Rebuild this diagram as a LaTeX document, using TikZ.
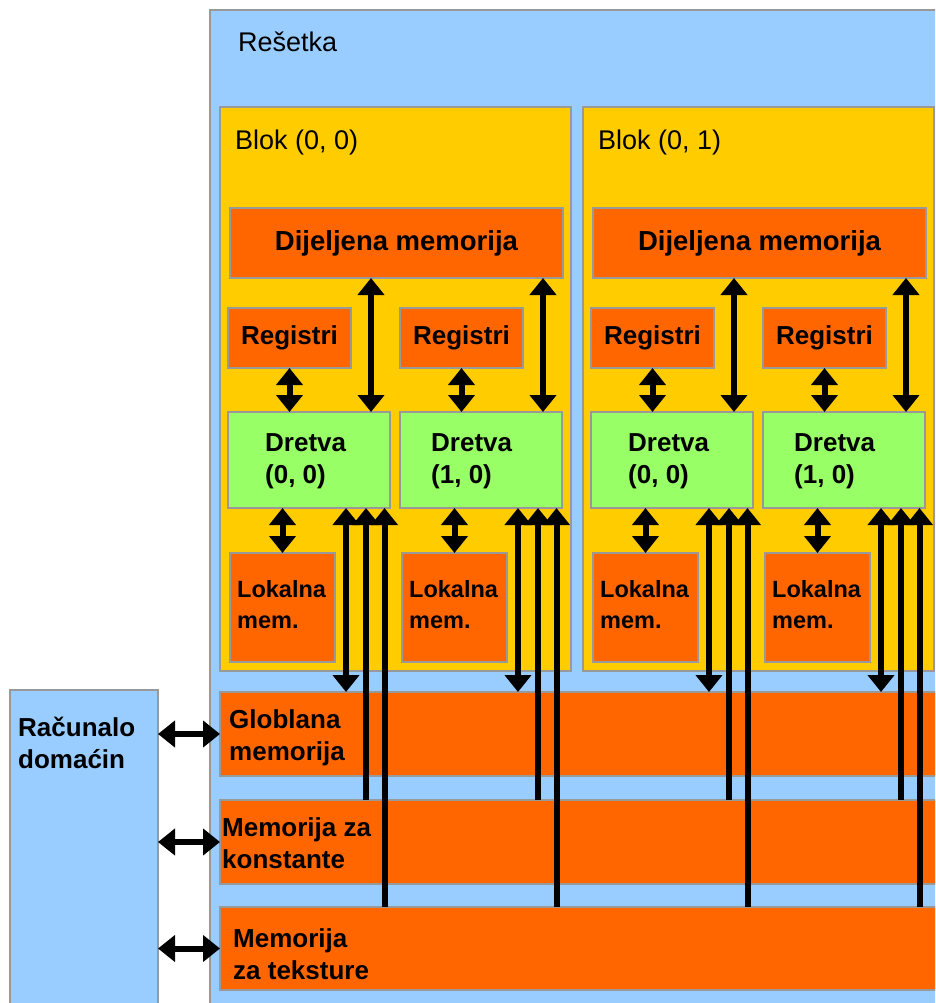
\documentclass[tikz,border=0pt]{standalone}
\usepackage{fontspec}
\setmainfont{Liberation Sans}
\usetikzlibrary{arrows.meta,calc}

\definecolor{gridblue}{HTML}{99CCFF}
\definecolor{blockyellow}{HTML}{FFCC00}
\definecolor{memorange}{HTML}{FF6600}
\definecolor{threadgreen}{HTML}{99FF66}
\definecolor{edgegray}{HTML}{999999}

\tikzset{
  box/.style={draw=edgegray, line width=1.5pt, anchor=north west,
              inner sep=0pt, outer sep=0pt},
  thinlbl/.style={inner sep=0pt, font=\fontsize{27}{32}\selectfont},
  boldlbl/.style={inner sep=0pt, font=\fontsize{26}{32}\selectfont\bfseries},
  widelbl/.style={inner sep=0pt, font=\fontsize{27.5}{32}\selectfont\bfseries},
  smalllbl/.style={inner sep=0pt, font=\fontsize{23.5}{31}\selectfont\bfseries},
  tip/.tip={Triangle[width=26pt,length=17pt]},
  dlink/.style={line width=6pt, tip-tip},
  flink/.style={line width=6pt, tip-}
}

\begin{document}
\begin{tikzpicture}[x=1pt,y=-1pt]
\useasboundingbox (0,0) rectangle (935,1003);
\clip (0,0) rectangle (935,1003);

% grid and host
\node[box, fill=gridblue, minimum width=800pt, minimum height=1100pt] (grid) at (210,10) {};
\node[thinlbl, anchor=west] (gridlbl) at (238,42) {Rešetka};
\node[box, fill=gridblue, minimum width=148pt, minimum height=400pt] (host) at (10,690) {};
\node[boldlbl, anchor=west, align=left] (hostlbl) at (18,743) {Računalo\\domaćin};

% device memories
\node[box, fill=memorange, minimum width=800pt, minimum height=84pt] (glob) at (220,692) {};
\node[boldlbl, anchor=west, align=left] (globlbl) at (229,738) {Globlana\\memorija};
\node[box, fill=memorange, minimum width=800pt, minimum height=84pt] (const) at (220,800) {};
\node[boldlbl, anchor=west, align=left] (constlbl) at (222,843) {Memorija za\\konstante};
\node[box, fill=memorange, minimum width=800pt, minimum height=83pt] (tex) at (220,907) {};
\node[boldlbl, anchor=west, align=left] (texlbl) at (233,954) {Memorija\\za teksture};

% blocks with their threads
\foreach \b in {0,1}{
  \pgfmathsetmacro\bx{220+363*\b}
  \node[box, fill=blockyellow, minimum width=351pt, minimum height=564pt] (blk\b) at (\bx,107) {};
  \node[thinlbl, anchor=west] (blklbl\b) at (\bx+15,143) {Blok (0, \b)};
  \node[box, widelbl, fill=memorange, minimum width=333pt, minimum height=70pt] (shm\b) at (\bx+10,208) {Dijeljena memorija};
  \foreach \t in {0,1}{
    \pgfmathsetmacro\tx{\bx+8+172*\t}
    \node[box, boldlbl, fill=memorange, minimum width=123pt, minimum height=60pt] (reg\b\t) at (\tx,308) {Registri};
    \node[box, fill=threadgreen, minimum width=162pt, minimum height=96pt] (thr\b\t) at (\tx,412) {};
    \node[boldlbl, anchor=west, align=left] (thrlbl\b\t) at (\tx+37-6*\t,461) {Dretva\\(\t, 0)};
    \node[box, fill=memorange, minimum width=105pt, minimum height=109pt] (loc\b\t) at (\tx+2,553) {};
    \node[smalllbl, anchor=west, align=left] (loclbl\b\t) at (\tx+9,605) {Lokalna\\mem.};
  }
}

% data paths of each thread
\foreach \b in {0,1}{
  \foreach \t in {0,1}{
    \coordinate (shp\b\t) at ([xshift=-19pt]thr\b\t.north east);
    \coordinate (glp\b\t) at ([xshift=-44pt]thr\b\t.south east);
    \coordinate (cnp\b\t) at ([xshift=-24pt]thr\b\t.south east);
    \coordinate (txp\b\t) at ([xshift=-5.5pt]thr\b\t.south east);
    \draw[dlink] (reg\b\t.south) -- (reg\b\t.south |- thr\b\t.north);
    \draw[dlink] (shp\b\t) -- (shp\b\t |- shm\b.south);
    \draw[dlink] (loc\b\t.north |- thr\b\t.south) -- (loc\b\t.north);
    \draw[dlink] (glp\b\t) -- (glp\b\t |- glob.north);
    \draw[flink] (cnp\b\t) -- (cnp\b\t |- const.north);
    \draw[flink] (txp\b\t) -- (txp\b\t |- tex.north);
  }
}

% host transfers
\draw[dlink] (host.east |- glob.west) -- (glob.west);
\draw[dlink] (host.east |- const.west) -- (const.west);
\draw[dlink] (host.east |- tex.west) -- (tex.west);
\end{tikzpicture}
\end{document}
